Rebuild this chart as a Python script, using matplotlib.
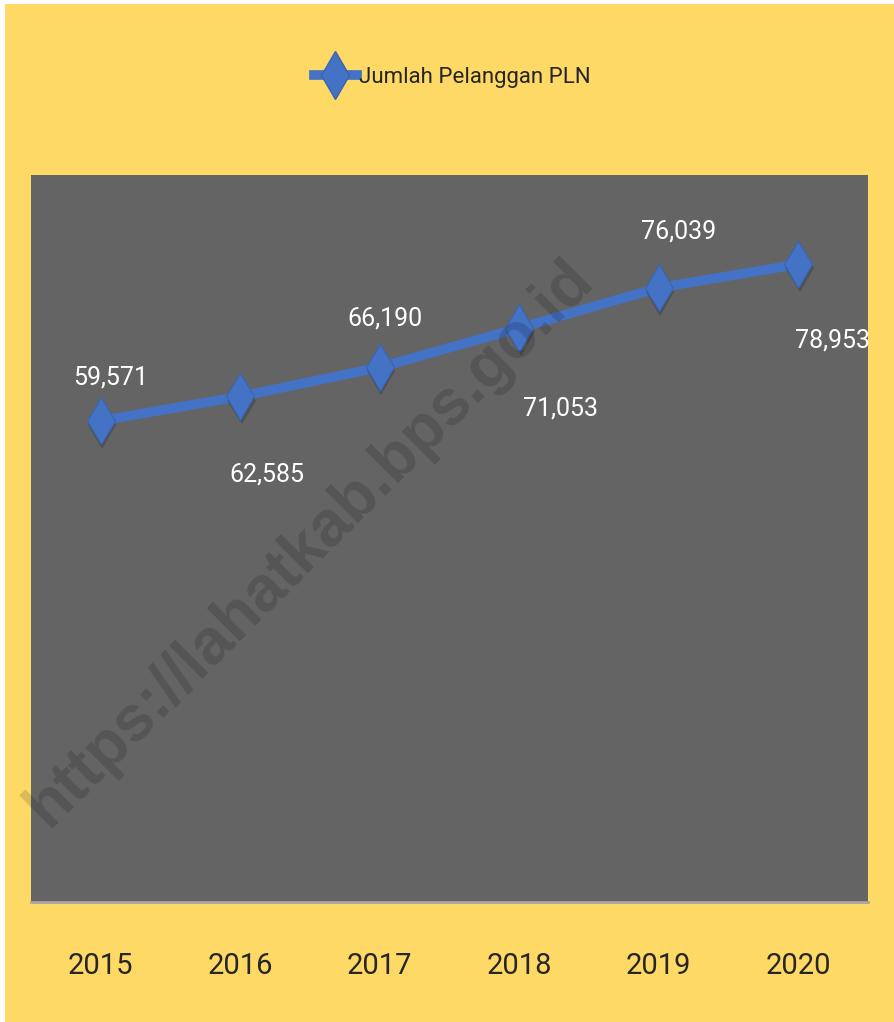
import matplotlib
matplotlib.use("Agg")
import matplotlib.pyplot as plt
import matplotlib.patches as mpatches
import matplotlib.patheffects as pe
from matplotlib.lines import Line2D

# data
years = ["2015", "2016", "2017", "2018", "2019", "2020"]
pelanggan = [59571, 62585, 66190, 71053, 76039, 78953]
series_name = "Jumlah Pelanggan PLN"

yellow = "#FFD966"
plot_gray = "#646464"
blue = "#4472C4"
txt_dark = "#262626"
narrow = ["Roboto", "DejaVu Sans"]

W, H = 894, 1022
fig = plt.figure(figsize=(W / 100, H / 100), dpi=100, facecolor="white")
# yellow chart area (thin white strip left/top like the screenshot)
fig.patches.append(mpatches.Rectangle((5 / W, 0), 1 - 5 / W, 1 - 4 / H,
                                      transform=fig.transFigure,
                                      facecolor=yellow, edgecolor="none", zorder=-5))

ax = fig.add_axes([31 / W, 1 - 902 / H, 837 / W, 727 / H])
ax.set_facecolor(plot_gray)
x = list(range(len(years)))
ax.plot(x, pelanggan, color=blue, lw=7, solid_capstyle="butt", zorder=3)
ax.plot(x, pelanggan, ls="none", marker="d", markersize=24,
        markerfacecolor=blue, markeredgecolor="#3a64b0", markeredgewidth=0.8,
        zorder=3,
        path_effects=[pe.SimplePatchShadow(offset=(1, -3), shadow_rgbFace="k", alpha=0.2),
                      pe.Normal()])
ax.set_xlim(-0.5, len(years) - 0.5)
ax.set_ylim(0, 90000)
ax.set_yticks([])
ax.set_xticks(x)
ax.set_xticklabels(years, fontsize=21, color=txt_dark, family=narrow)
ax.tick_params(axis="x", length=0, pad=36)
for s in ["top", "left", "right"]:
    ax.spines[s].set_visible(False)
ax.spines["bottom"].set_color("#a6a6a6")
ax.spines["bottom"].set_linewidth(2)

# data labels, manually nudged like the original
offsets = [(10, 43), (27, -78), (5, 49), (41, -80), (20, 56), (34, -76)]
for xi, v, (dx, dy) in zip(x, pelanggan, offsets):
    ax.annotate(f"{v:,}", (xi, v), xytext=(dx, dy), textcoords="offset pixels",
                ha="center", va="center", color="white", fontsize=18,
                family=narrow, zorder=4)

# legend
handle = Line2D([0], [0], color=blue, lw=7, marker="d", markersize=24,
                markerfacecolor=blue, markeredgecolor="#3a64b0")
fig.legend([handle], [series_name], loc="center", bbox_to_anchor=(0.506, 0.924),
           frameon=False, handlelength=1.9, handletextpad=0.1,
           prop={"family": narrow, "size": 16}, labelcolor=txt_dark)

# watermark
fig.text(310 / W, 1 - 543 / H, "https://lahatkab.bps.go.id", rotation=45,
         rotation_mode="anchor", ha="center", va="center", fontsize=46,
         fontweight="bold", family=["Liberation Sans", "DejaVu Sans"],
         color="black", alpha=0.15, zorder=10)

fig.savefig("out.png", dpi=100, facecolor=fig.get_facecolor())
